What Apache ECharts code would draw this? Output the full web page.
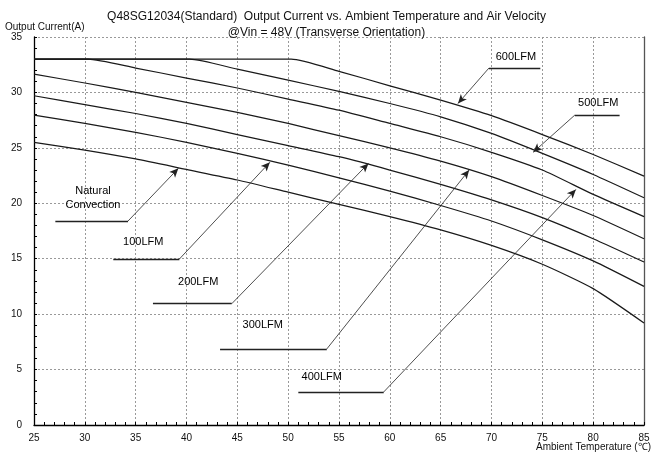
<!DOCTYPE html>
<html><head><meta charset="utf-8">
<script src="https://cdn.jsdelivr.net/npm/echarts@6/dist/echarts.min.js"></script>
<style>html,body{margin:0;padding:0;background:#fff}#c{width:653px;height:455px}</style>
</head><body><div id="c"></div>
<script>
// ---- data ----
const seriesNames = ['Natural Convection','100LFM','200LFM','300LFM','400LFM','500LFM','600LFM'];
const tempNC   = [25,30,35,40,45,50,55,60,65,70,75,80,85];
const curNC    = [25.5,24.8,24.0,23.05,22.1,21.0,19.9,18.8,17.6,16.2,14.5,12.3,9.2];
const temp100  = [25,30,35,40,45,50,55,60,65,70,75,80,85];
const cur100   = [27.95,27.2,26.4,25.5,24.5,23.45,22.3,21.1,19.8,18.4,16.7,14.8,12.5];
const temp200  = [25,30,35,40,45,50,55,60,65,70,75,80,85];
const cur200   = [29.7,28.9,28.1,27.2,26.2,25.2,24.2,23.0,21.7,20.3,18.7,16.8,14.7];
const temp300  = [25,30,35,40,45,50,55,60,65,70,75,80,85];
const cur300   = [31.65,30.85,30.0,29.1,28.2,27.2,26.1,25.0,23.8,22.4,20.7,18.9,16.8];
const temp400  = [25,30.3,35,40,45,50,55,60,65,70,75,80,85];
const cur400   = [33,33,32.2,31.3,30.4,29.4,28.4,27.2,26.0,24.6,23.0,20.8,18.8];
const temp500  = [25,40.3,45,50,55,60,65,70,75,80,85];
const cur500   = [33,33,32.1,31.1,30.1,29.0,27.8,26.3,24.5,22.6,20.5];
const temp600  = [25,50.3,55,60,65,70,75,80,85];
const cur600   = [33,33,31.9,30.6,29.3,27.9,26.2,24.4,22.45];
const xTicks = [25,30,35,40,45,50,55,60,65,70,75,80,85];
const yTicks = [0,5,10,15,20,25,30,35];

// annotation labels: [labelText, textX, textY, underlineX1, underlineX2, underlineY, arrowFromX, tipX, tipY]
const annotations = [
  ['600LFM', 72.4, 33.2, 69.75, 74.8, 32.2, 69.75, 66.7, 29.0],
  ['500LFM', 80.5, 29.05, 78.2, 82.6, 27.96, 78.2, 74.1, 24.6],
  ['Natural\nConvection', 30.8, 20.45, 27.1, 34.25, 18.4, 34.25, 39.2, 23.15],
  ['100LFM', 35.75, 16.53, 32.8, 39.3, 14.97, 39.3, 48.2, 23.7],
  ['200LFM', 41.15, 12.87, 36.7, 44.45, 10.94, 44.45, 57.9, 23.6],
  ['300LFM', 47.5, 9.0, 43.3, 53.8, 6.86, 53.8, 67.8, 23.0],
  ['400LFM', 53.3, 4.33, 51.0, 59.4, 2.98, 59.4, 78.3, 21.25]
];

const temps = [tempNC,temp100,temp200,temp300,temp400,temp500,temp600];
const curs  = [curNC,cur100,cur200,cur300,cur400,cur500,cur600];

const FONT = 'Liberation Sans, Arial, sans-serif';
const chart = echarts.init(document.getElementById('c'), null, {renderer:'canvas'});

const series = seriesNames.map((n,i)=>({
  name:n, type:'line', showSymbol:false, smooth:0.2,
  lineStyle:{color:'#1a1a1a', width:1.25},
  data: temps[i].map((t,j)=>[t,curs[i][j]]),
  z:3
}));

const mlData = [];
annotations.forEach(a=>{
  mlData.push([{coord:[a[3],a[5]],symbol:'none',lineStyle:{width:1.3,color:'#222'}},{coord:[a[4],a[5]],symbol:'none'}]);
  mlData.push([{coord:[a[6],a[5]],symbol:'none',lineStyle:{width:0.8,color:'#222'}},{coord:[a[7],a[8]],symbol:'arrow',symbolSize:[6,9]}]);
});
series.push({
  type:'line', data:[], silent:true,
  markLine:{silent:true, animation:false, symbol:['none','none'], label:{show:false},
    lineStyle:{color:'#222', type:'solid', width:1}, emphasis:{disabled:true},
    data: mlData
  }
});

series.push({
  type:'scatter', symbol:'circle', symbolSize:1, silent:true,
  itemStyle:{color:'rgba(255,255,255,0)'},
  data: annotations.map(a=>({value:[a[1],a[2]], name:a[0]})),
  label:{show:true, position:'inside', formatter:p=>p.name, color:'#000', textBorderWidth:0,
    textBorderColor:'transparent', opacity:1, fontSize:11, fontFamily:FONT, lineHeight:14},
  emphasis:{disabled:true},
  z:5
});

chart.setOption({
  animation:false,
  backgroundColor:'#fff',
  title:{
    text:'Q48SG12034(Standard)  Output Current vs. Ambient Temperature and Air Velocity\n@Vin = 48V (Transverse Orientation)',
    left:'center', top:4,
    textStyle:{fontSize:12, fontWeight:'normal', color:'#111', fontFamily:FONT, lineHeight:16}
  },
  grid:{left:34, right:9, top:37, bottom:30},
  xAxis:{
    type:'value', min:25, max:85, interval:5,
    axisLine:{show:true, lineStyle:{color:'#000', width:1.3}},
    axisTick:{show:true, inside:true, length:3, lineStyle:{color:'#000'}},
    minorTick:{show:true, splitNumber:5, length:3, lineStyle:{color:'#000'}},
    axisLabel:{color:'#111', fontSize:10, fontFamily:FONT, margin:8,
      formatter:v=> xTicks.indexOf(v)>=0 ? String(v) : ''},
    splitLine:{show:true, lineStyle:{color:'#999', type:[2,2], width:1}}
  },
  yAxis:[{
    type:'value', min:0, max:35, interval:5,
    name:'Output Current(A)', nameLocation:'end', nameGap:5,
    nameTextStyle:{color:'#111', fontSize:10, fontFamily:FONT, align:'left', padding:[0,0,0,-29]},
    axisLine:{show:true, lineStyle:{color:'#000', width:1.3}},
    axisTick:{show:true, inside:true, length:3, lineStyle:{color:'#000'}},
    minorTick:{show:true, splitNumber:5, length:3, lineStyle:{color:'#000'}},
    axisLabel:{color:'#111', fontSize:10, fontFamily:FONT, margin:12,
      formatter:v=> yTicks.indexOf(v)>=0 ? String(v) : ''},
    splitLine:{show:true, lineStyle:{color:'#999', type:[2,2], width:1}}
  },{
    type:'value', min:0, max:35, interval:5, position:'right',
    axisLine:{show:true, lineStyle:{color:'#555', width:1.3}},
    axisTick:{show:false}, axisLabel:{show:false}, splitLine:{show:false}
  }],
  graphic:[{
    type:'text', right:2, bottom:3,
    style:{text:'Ambient Temperature (℃)', fontSize:10, fontFamily:FONT, fill:'#111'}
  }],
  series: series
});
</script>
</body></html>
